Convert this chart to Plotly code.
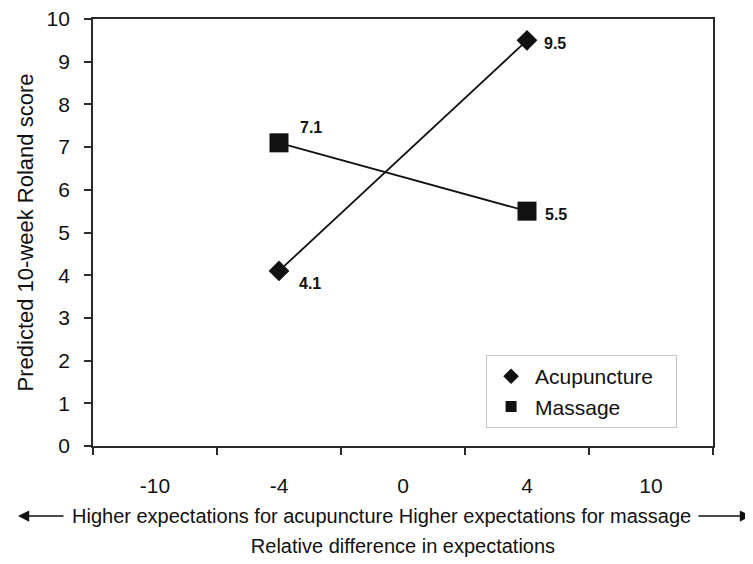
import plotly.graph_objects as go

# categories on the x axis (relative difference in expectations)
categories = ["-10", "-4", "0", "4", "10"]

# predicted 10-week Roland score at -4 and 4
acu_x = ["-4", "4"]
acu_y = [4.1, 9.5]
mas_x = ["-4", "4"]
mas_y = [7.1, 5.5]

FONT = "Liberation Sans, Arial, sans-serif"
INK = "#111111"
AXIS = "#2a2a2a"
PAD = "\u00a0" * 3  # widens the legend box a little

fig = go.Figure()

fig.add_trace(go.Scatter(
    x=acu_x, y=acu_y, name="Acupuncture", mode="lines+markers",
    line=dict(color=INK, width=1.8),
    marker=dict(symbol="diamond", size=16, color=INK),
    showlegend=False,
))
fig.add_trace(go.Scatter(
    x=mas_x, y=mas_y, name="Massage", mode="lines+markers",
    line=dict(color=INK, width=1.8),
    marker=dict(symbol="square", size=19, color=INK),
    showlegend=False,
))

# legend entries: markers only
fig.add_trace(go.Scatter(x=[None], y=[None], mode="markers", name="Acupuncture" + PAD,
                         marker=dict(symbol="diamond", size=12, color=INK), legendgroup="a"))
fig.add_trace(go.Scatter(x=[None], y=[None], mode="markers", name="Massage",
                         marker=dict(symbol="square", size=11, color=INK), legendgroup="b"))

# value labels next to the points (category axis -> use the category index)
label_shift = {
    ("acu", 0): (31, -13), ("acu", 1): (28, -3),
    ("mas", 0): (32, 15), ("mas", 1): (29, -3),
}
for key, xs, ys in (("acu", acu_x, acu_y), ("mas", mas_x, mas_y)):
    for i, (xv, yv) in enumerate(zip(xs, ys)):
        dx, dy = label_shift[(key, i)]
        fig.add_annotation(
            x=categories.index(xv), y=yv, text=str(yv), showarrow=False,
            xshift=dx, yshift=dy,
            font=dict(size=16, color=INK, family=FONT, weight="bold"),
        )

# page body adds an 8px offset, margins compensate for it
fig.update_layout(
    width=753, height=564,
    margin=dict(l=85, r=48, t=11, b=126),
    paper_bgcolor="white", plot_bgcolor="white",
    font=dict(family=FONT, color=INK, size=20),
    showlegend=True,
    legend=dict(
        x=0.634, y=0.213, xanchor="left", yanchor="top",
        bordercolor="#c4c4c4", borderwidth=1,
        font=dict(size=21, color=INK),
        tracegroupgap=0, itemwidth=38,
    ),
    xaxis=dict(
        type="category", categoryorder="array", categoryarray=categories,
        range=[-0.5, 4.5], tickson="boundaries",
        ticks="outside", ticklen=7, tickcolor=AXIS, tickwidth=1.5,
        showline=True, linecolor=AXIS, linewidth=1.8, mirror=True,
        showgrid=False, zeroline=False, automargin=False,
        tickfont=dict(size=21), ticklabelstandoff=20,
        title=dict(text="Relative difference in expectations", font=dict(size=20), standoff=43),
    ),
    yaxis=dict(
        range=[0, 10], dtick=1,
        ticks="outside", ticklen=7, tickcolor=AXIS, tickwidth=1.5,
        showline=True, linecolor=AXIS, linewidth=1.8, mirror=True,
        showgrid=False, zeroline=False, automargin=False,
        tickfont=dict(size=21), ticklabelstandoff=10, ticklabeloverflow="allow",
        title=dict(text="Predicted 10-week Roland score", font=dict(size=22), standoff=7),
    ),
)

# direction text with arrows under the tick labels
fig.add_annotation(
    xref="paper", yref="paper", x=0.465, y=-0.164,
    text="Higher expectations for acupuncture Higher expectations for massage",
    showarrow=False, font=dict(size=20, color=INK), yanchor="middle",
)
fig.add_annotation(
    xref="paper", yref="paper", x=-0.121, y=-0.164, ax=47, ay=0,
    text="", showarrow=True, arrowhead=2, arrowsize=1.4, arrowwidth=1.6, arrowcolor=INK,
)
fig.add_annotation(
    xref="paper", yref="paper", x=1.0613, y=-0.164, ax=-54, ay=0,
    text="", showarrow=True, arrowhead=2, arrowsize=1.4, arrowwidth=1.6, arrowcolor=INK,
)

fig.write_html("out.html")
